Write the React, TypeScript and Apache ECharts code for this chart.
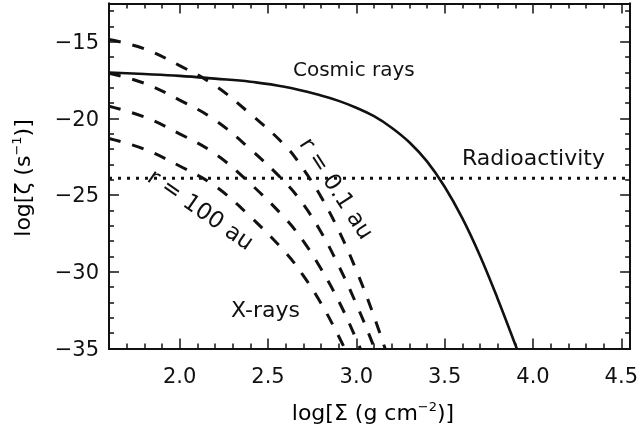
import React, { useEffect, useRef } from "react";
import * as echarts from "echarts";

// Axis ticks
const xMajor = [2.0, 2.5, 3.0, 3.5, 4.0, 4.5];
const xMinor = [1.7, 1.8, 1.9, 2.1, 2.2, 2.3, 2.4, 2.6, 2.7, 2.8, 2.9, 3.1, 3.2, 3.3, 3.4, 3.6, 3.7, 3.8, 3.9, 4.1, 4.2, 4.3, 4.4];
const yMajor = [-35, -30, -25, -20, -15];
const yMinor = [-34, -33, -32, -31, -29, -28, -27, -26, -24, -23, -22, -21, -19, -18, -17, -16, -14, -13];

// Cosmic rays (solid)
const cosmicX = [1.6, 1.8, 2.0, 2.2, 2.4, 2.6, 2.8, 2.9, 3.0, 3.1, 3.2, 3.3, 3.4, 3.5, 3.6, 3.7, 3.8, 3.9, 3.95];
const cosmicY = [-17.0, -17.1, -17.22, -17.4, -17.6, -17.95, -18.5, -18.85, -19.3, -19.85, -20.6, -21.55, -22.8, -24.45, -26.5, -28.95, -31.75, -34.75, -36.3];

// Radioactivity (dotted)
const radioX = [1.6, 4.55];
const radioY = [-23.9, -23.9];

// X-rays (dashed), r = 0.1, 1, 10, 100 au
const xrayX = [1.6, 1.8, 2.0, 2.2, 2.4, 2.6, 2.7, 2.8, 2.9, 3.0, 3.1, 3.2];
const xray01 = [-14.85, -15.45, -16.55, -17.85, -19.7, -21.8, -23.3, -25.1, -27.3, -29.9, -32.9, -36.3];
const xray1 = [-17.05, -17.7, -18.8, -20.1, -22.0, -24.2, -25.6, -27.4, -29.6, -32.1, -34.9, -38.0];
const xray10 = [-19.2, -19.9, -21.0, -22.3, -24.25, -26.55, -28.0, -29.8, -31.9, -34.4, -37.2, -40.2];
const xray100 = [-21.3, -22.0, -23.1, -24.4, -26.4, -28.75, -30.25, -32.05, -34.2, -36.6, -39.2, -42.0];

const FONT = "DejaVu Sans";
const INK = "#111";

function pairs(xs: number[], ys: number[]) {
  return xs.map((x, i) => [x, ys[i]]);
}

function fmtY(v: number) {
  return v < 0 ? "\u2212" + Math.abs(v) : String(v);
}

export default function App() {
  const ref = useRef<HTMLDivElement>(null);
  useEffect(() => {
    if (!ref.current) return;
    const chart = echarts.init(ref.current, undefined, { renderer: "svg" });
    const axisLine = { show: true, lineStyle: { color: INK, width: 2 } };
    const xBase = { type: "value", min: 1.6, max: 4.55, splitLine: { show: false } };
    const yBase = { type: "value", min: -35, max: -12.5, splitLine: { show: false } };
    const tick = (vals: number[], len: number) => ({
      show: true,
      inside: true,
      length: len,
      customValues: vals,
      lineStyle: { color: INK, width: 1.5 },
    });
    const dashed = (name: string, ys: number[]) => ({
      name,
      type: "line",
      xAxisIndex: 0,
      yAxisIndex: 0,
      data: pairs(xrayX, ys),
      symbol: "none",
      smooth: 0.4,
      lineStyle: { color: INK, width: 3, type: [12, 12] },
    });
    chart.setOption({
      animation: false,
      grid: { left: 109, right: 10, top: 3.5, bottom: 79.5 },
      xAxis: [
        {
          ...xBase,
          position: "bottom",
          axisLine,
          axisTick: tick(xMajor, 10),
          axisLabel: {
            customValues: xMajor,
            formatter: (v: number) => v.toFixed(1),
            color: INK,
            fontFamily: FONT,
            fontSize: 21,
            margin: 17,
          },
        },
        { ...xBase, position: "bottom", axisLine, axisTick: tick(xMinor, 5), axisLabel: { show: false } },
        { ...xBase, position: "top", axisLine, axisTick: tick(xMajor, 10), axisLabel: { show: false } },
        { ...xBase, position: "top", axisLine, axisTick: tick(xMinor, 5), axisLabel: { show: false } },
      ],
      yAxis: [
        {
          ...yBase,
          position: "left",
          axisLine,
          axisTick: tick(yMajor, 10),
          axisLabel: {
            customValues: yMajor,
            formatter: fmtY,
            color: INK,
            fontFamily: FONT,
            fontSize: 21,
            margin: 10,
          },
        },
        { ...yBase, position: "left", axisLine, axisTick: tick(yMinor, 5), axisLabel: { show: false } },
        { ...yBase, position: "right", axisLine, axisTick: tick(yMajor, 10), axisLabel: { show: false } },
        { ...yBase, position: "right", axisLine, axisTick: tick(yMinor, 5), axisLabel: { show: false } },
      ],
      series: [
        {
          name: "Cosmic rays",
          type: "line",
          data: pairs(cosmicX, cosmicY),
          symbol: "none",
          smooth: 0.4,
          lineStyle: { color: INK, width: 2.6 },
        },
        {
          name: "Radioactivity",
          type: "line",
          data: pairs(radioX, radioY),
          symbol: "none",
          lineStyle: { color: INK, width: 3, type: [3, 6] },
        },
        dashed("r = 0.1 au", xray01),
        dashed("r = 1 au", xray1),
        dashed("r = 10 au", xray10),
        dashed("r = 100 au", xray100),
      ],
      graphic: [
        {
          type: "text",
          x: 293,
          y: 69,
          style: { text: "Cosmic rays", font: `20px '${FONT}'`, fill: INK, textVerticalAlign: "middle" },
        },
        {
          type: "text",
          x: 462,
          y: 157,
          style: { text: "Radioactivity", font: `22px '${FONT}'`, fill: INK, textVerticalAlign: "middle" },
        },
        {
          type: "text",
          x: 231,
          y: 309,
          style: { text: "X-rays", font: `22px '${FONT}'`, fill: INK, textVerticalAlign: "middle" },
        },
        {
          type: "text",
          x: 337,
          y: 188,
          rotation: (-57 * Math.PI) / 180,
          style: { text: "r = 0.1 au", font: `23px '${FONT}'`, fill: INK, textAlign: "center", textVerticalAlign: "middle" },
        },
        {
          type: "text",
          x: 201,
          y: 209,
          rotation: (-35 * Math.PI) / 180,
          style: { text: "r = 100 au", font: `23px '${FONT}'`, fill: INK, textAlign: "center", textVerticalAlign: "middle" },
        },
        {
          type: "text",
          x: 22,
          y: 178,
          rotation: Math.PI / 2,
          style: {
            text: "{a|log[ζ (s}{s|\u22121}{a|)]}",
            textAlign: "center",
            textVerticalAlign: "middle",
            rich: {
              a: { fontFamily: FONT, fontSize: 22, color: INK, lineHeight: 24 },
              s: { fontFamily: FONT, fontSize: 13, color: INK, lineHeight: 13, verticalAlign: "top" },
            },
          },
        },
        {
          type: "text",
          x: 373,
          y: 412,
          style: {
            text: "{a|log[Σ (g cm}{s|\u22122}{a|)]}",
            textAlign: "center",
            textVerticalAlign: "middle",
            rich: {
              a: { fontFamily: FONT, fontSize: 22, color: INK, lineHeight: 24 },
              s: { fontFamily: FONT, fontSize: 13, color: INK, lineHeight: 13, verticalAlign: "top" },
            },
          },
        },
      ],
    });
    return () => chart.dispose();
  }, []);
  return <div ref={ref} style={{ position: "fixed", left: 0, top: 0, width: 641, height: 428 }} />;
}
